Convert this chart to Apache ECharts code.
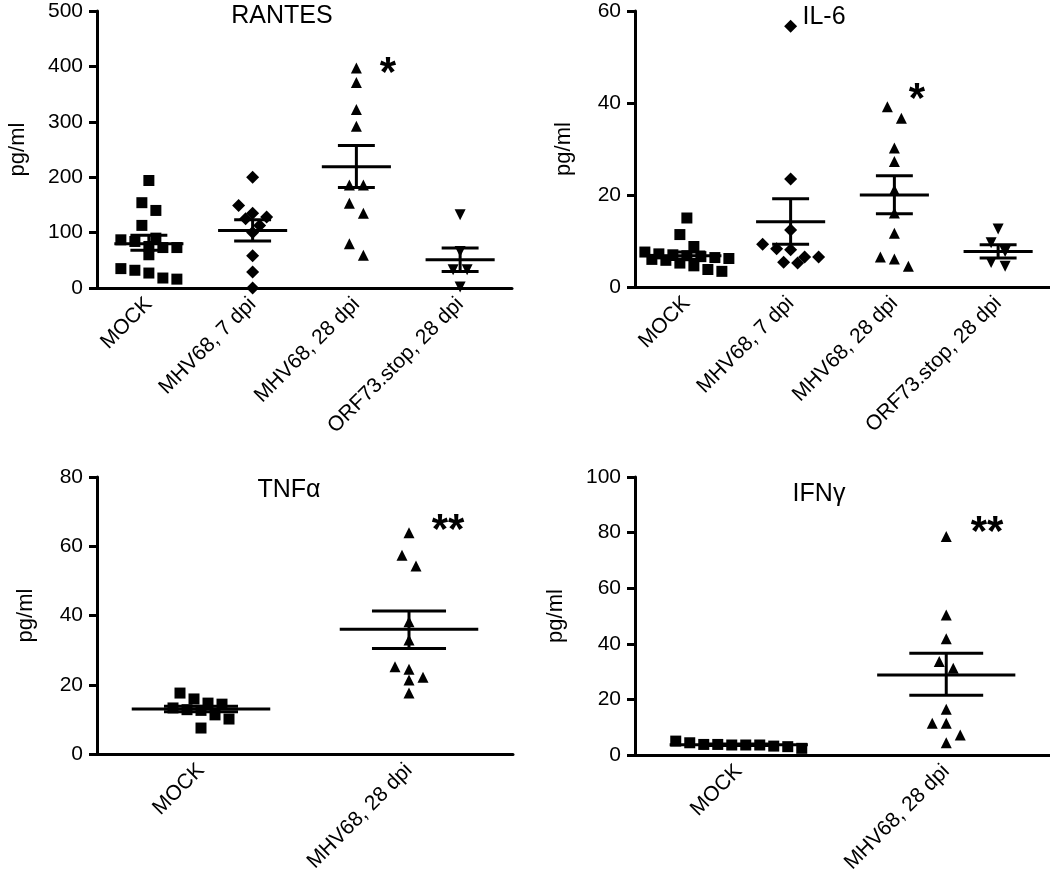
<!DOCTYPE html>
<html lang="en">
<head>
<meta charset="UTF-8">
<title>cytokines</title>
<script src="https://cdn.jsdelivr.net/npm/echarts@6/dist/echarts.min.js"></script>
<style>
html, body { margin: 0; background: #fff; }
#main { width: 1050px; height: 879px; }
</style>
</head>
<body>
<div id="main"></div>
<script>
// ---------------- data ----------------
var groups4 = ['MOCK', 'MHV68, 7 dpi', 'MHV68, 28 dpi', 'ORF73.stop, 28 dpi'];
var groups2 = ['MOCK', 'MHV68, 28 dpi'];

var rantesMock = [194, 154, 140, 113, 90, 87, 84, 75, 73, 73, 60, 35, 32, 27, 18, 16];
var rantes7 = [200, 149, 135, 128, 125, 113, 100, 58, 29, 0];
var rantes28 = [397, 371, 322, 292, 186, 186, 153, 135, 80, 59];
var rantesOrf = [132, 66, 33, 33, 2];
var rantesMean = [80, 104, 219, 51];
var rantesHi = [95, 123, 257, 72];
var rantesLo = [68, 85, 181.5, 30];

var il6Mock = [15.0, 11.4, 8.8, 7.6, 7.2, 7.0, 6.8, 6.6, 6.4, 6.2, 6.0, 5.8, 5.2, 4.6, 3.8, 3.4];
var il67 = [56.7, 23.5, 12.4, 9.3, 8.3, 8.1, 6.5, 6.5, 5.4, 5.2];
var il628 = [39.2, 36.7, 30.2, 27.3, 21.1, 16.1, 11.7, 6.5, 6.1, 4.5];
var il6Orf = [12.6, 9.6, 7.7, 5.3, 4.5];
var il6Mean = [6.8, 14.2, 20.0, 7.7];
var il6Hi = [7.6, 19.2, 24.2, 9.2];
var il6Lo = [6.0, 9.3, 15.9, 6.3];

var tnfMock = [17.6, 15.9, 14.7, 14.4, 13.3, 12.8, 12.6, 11.3, 10.1, 7.5];
var tnf28 = [63.9, 57.4, 54.3, 38.2, 32.9, 25.2, 24.5, 22.2, 21.4, 17.6];
var tnfMean = [13.0, 36.0];
var tnfHi = [13.8, 41.3];
var tnfLo = [12.2, 30.5];

var ifnMock = [5.0, 4.4, 3.8, 3.8, 3.6, 3.6, 3.6, 3.2, 3.0, 2.4];
var ifn28 = [78.6, 50.4, 41.8, 33.6, 31.2, 16.5, 11.4, 11.4, 7.2, 4.4];
var ifnMean = [3.7, 28.8];
var ifnHi = [4.0, 36.6];
var ifnLo = [3.4, 21.5];

// ---------------- layout ----------------
var FONT = 'Liberation Sans, Arial, Helvetica, sans-serif';
var panels = [
    { title: 'RANTES', star: '*', cats: groups4, sets: [rantesMock, rantes7, rantes28, rantesOrf],
      mean: rantesMean, hi: rantesHi, lo: rantesLo, max: 500, step: 100,
      grid: { left: 97, top: 11, width: 415, height: 277 }, tx: 282, ty: 4, nameGap: 68, sx: 388, sy: 74 },
    { title: 'IL-6', star: '*', cats: groups4, sets: [il6Mock, il67, il628, il6Orf],
      mean: il6Mean, hi: il6Hi, lo: il6Lo, max: 60, step: 20,
      grid: { left: 635, top: 11, width: 415, height: 276 }, tx: 824, ty: 5, nameGap: 60, sx: 917, sy: 100 },
    { title: 'TNFα', star: '**', cats: groups2, sets: [tnfMock, tnf28],
      mean: tnfMean, hi: tnfHi, lo: tnfLo, max: 80, step: 20,
      grid: { left: 97, top: 477, width: 416, height: 277 }, tx: 289, ty: 478, nameGap: 60, sx: 448, sy: 531 },
    { title: 'IFNγ', star: '**', cats: groups2, sets: [ifnMock, ifn28],
      mean: ifnMean, hi: ifnHi, lo: ifnLo, max: 100, step: 20,
      grid: { left: 635, top: 477, width: 415, height: 278 }, tx: 819, ty: 482, nameGap: 68, sx: 987, sy: 533 }
];
var symbols4 = [['rect', 0], ['diamond', 0], ['triangle', 0], ['triangle', 180]];
var symbols2 = [['rect', 0], ['triangle', 0]];

// spread points that sit at about the same height side by side (like a column scatter)
function swarm(values, pxPerUnit, gap, thresh, maxRow) {
    var sorted = values.slice().sort(function (a, b) { return b - a; });
    var rows = [], cur = null;
    sorted.forEach(function (v) {
        if (cur && cur.length < maxRow && (cur[0] - v) * pxPerUnit < thresh) cur.push(v);
        else { cur = [v]; rows.push(cur); }
    });
    var out = [];
    rows.forEach(function (r) {
        r.forEach(function (v, k) {
            out.push({ v: v, dx: (k - (r.length - 1) / 2) * gap });
        });
    });
    return out;
}

function meanSem(params, api) {
    var g = api.value(0);
    var m = api.coord([g, api.value(1)]);
    var lo = api.coord([g, api.value(2)]);
    var hi = api.coord([g, api.value(3)]);
    var bw = api.size([1, 0])[0];
    var st = { stroke: '#000', lineWidth: 3 };
    return { type: 'group', children: [
        { type: 'line', shape: { x1: m[0] - bw * 0.333, y1: m[1], x2: m[0] + bw * 0.333, y2: m[1] }, style: st },
        { type: 'line', shape: { x1: m[0] - bw * 0.178, y1: hi[1], x2: m[0] + bw * 0.178, y2: hi[1] }, style: st },
        { type: 'line', shape: { x1: m[0] - bw * 0.178, y1: lo[1], x2: m[0] + bw * 0.178, y2: lo[1] }, style: st },
        { type: 'line', shape: { x1: m[0], y1: lo[1], x2: m[0], y2: hi[1] }, style: st }
    ] };
}

var grids = [], xAxes = [], yAxes = [], titles = [], series = [], texts = [];
panels.forEach(function (p, pi) {
    grids.push(p.grid);
    titles.push({ text: p.title, left: p.tx, top: p.ty, textAlign: 'center', padding: 0,
        textStyle: { fontSize: 25, fontWeight: 'normal', color: '#000', fontFamily: FONT } });
    xAxes.push({
        type: 'category', gridIndex: pi, data: p.cats, boundaryGap: true,
        axisLine: { lineStyle: { color: '#000', width: 3 } },
        axisTick: { alignWithLabel: true, length: 8, lineStyle: { color: '#000', width: 3 } },
        axisLabel: { rotate: 45, interval: 0, margin: 13, fontSize: 21, color: '#000', fontFamily: FONT },
        splitLine: { show: false }
    });
    yAxes.push({
        type: 'value', gridIndex: pi, min: 0, max: p.max, interval: p.step,
        name: 'pg/ml', nameLocation: 'middle', nameGap: p.nameGap,
        nameTextStyle: { fontSize: 22, color: '#000', fontFamily: FONT },
        axisLine: { show: true, lineStyle: { color: '#000', width: 3 } },
        axisTick: { show: true, length: 8, lineStyle: { color: '#000', width: 3 } },
        axisLabel: { margin: 14, fontSize: 21, color: '#000', fontFamily: FONT },
        splitLine: { show: false }
    });
    var syms = p.cats.length === 4 ? symbols4 : symbols2;
    var ppu = p.grid.height / p.max;
    var maxRow = Math.floor(p.grid.width / p.cats.length / 14);
    p.sets.forEach(function (vals, g) {
        var pts = swarm(vals, ppu, 14, 13, maxRow);
        series.push({
            type: 'scatter', xAxisIndex: pi, yAxisIndex: pi, silent: true,
            symbol: syms[g][0], symbolRotate: syms[g][1],
            symbolSize: syms[g][0] === 'diamond' ? 13 : 11,
            itemStyle: { color: '#000', opacity: 1 },
            data: pts.map(function (o) { return { value: [g, o.v], symbolOffset: [o.dx, 0] }; }),
            z: 2
        });
    });
    series.push({
        type: 'custom', xAxisIndex: pi, yAxisIndex: pi, silent: true, z: 3,
        renderItem: meanSem,
        encode: { x: 0, y: [1, 2, 3] },
        data: p.mean.map(function (m, g) { return [g, m, p.lo[g], p.hi[g]]; })
    });
    texts.push({ type: 'text', x: p.sx, y: p.sy, silent: true,
        style: { text: p.star, fontSize: 42, fontWeight: 'bold', fontFamily: FONT, fill: '#000',
                 align: 'center', verticalAlign: 'middle' } });
});

var myChart = echarts.init(document.getElementById('main'));
myChart.setOption({
    backgroundColor: '#fff',
    animation: false,
    title: titles,
    grid: grids,
    xAxis: xAxes,
    yAxis: yAxes,
    series: series,
    graphic: texts
});
</script>
</body>
</html>
